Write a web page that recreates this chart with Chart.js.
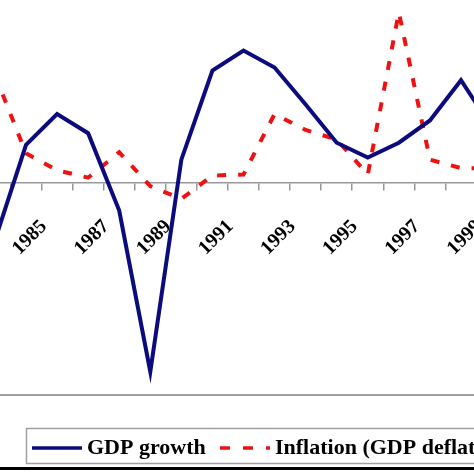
<!DOCTYPE html>
<html>
<head>
<meta charset="utf-8">
<script src="https://cdn.jsdelivr.net/npm/chart.js@4/dist/chart.umd.min.js"></script>
<style>
  html, body { margin: 0; padding: 0; background: #fff; overflow: hidden; }
  #wrap { width: 474px; height: 474px; }
</style>
</head>
<body>
<div id="wrap"><canvas id="chart" width="474" height="474"></canvas></div>
<script>
// Données (en %)
const years = [1984, 1985, 1986, 1987, 1988, 1989, 1990, 1991, 1992, 1993, 1994, 1995, 1996, 1997, 1998, 1999, 2000];
const gdpGrowth = [-2.7, 1.8, 3.25, 2.35, -1.3, -8.9, 1.1, 5.3, 6.25, 5.45, 3.7, 1.9, 1.2, 1.9, 2.95, 4.85, 2.6];
const inflation = [5.1, 1.4, 0.6, 0.25, 1.45, -0.15, -0.75, 0.35, 0.4, 3.25, 2.5, 2.05, 0.4, 8.05, 1.1, 0.7, 0.7];
const labelYears = [1985, 1987, 1989, 1991, 1993, 1995, 1997, 1999];
const tickYears = [1984.5, 1985.5, 1986.5, 1987.5, 1988.5, 1989.5, 1990.5, 1991.5, 1992.5, 1993.5, 1994.5, 1995.5, 1996.5, 1997.5, 1998.5, 1999.5];
const seriesNames = ['GDP growth', 'Inflation (GDP deflator)'];

const blue = '#0b0b7e';
const red = '#ee1111';
const redDash = [9, 12];

function toPoints(values) {
  return years.map((y, i) => ({ x: y, y: values[i] }));
}

// Légende encadrée dessinée à la main (une seule ligne, coupée à droite)
const boxLegend = {
  id: 'boxLegend',
  afterDraw(chart) {
    const ctx = chart.ctx;
    ctx.save();
    ctx.strokeStyle = '#a0a0a0';
    ctx.lineWidth = 1.5;
    ctx.strokeRect(26.5, 428.5, 480, 35);

    ctx.lineWidth = 3.5;
    ctx.strokeStyle = blue;
    ctx.beginPath(); ctx.moveTo(32, 448); ctx.lineTo(82, 448); ctx.stroke();

    ctx.strokeStyle = red;
    ctx.setLineDash([10, 13]);
    ctx.beginPath(); ctx.moveTo(220, 448); ctx.lineTo(270, 448); ctx.stroke();
    ctx.setLineDash([]);

    ctx.fillStyle = '#000';
    ctx.font = 'bold 22px "Liberation Serif", "DejaVu Serif", serif';
    ctx.textBaseline = 'middle';
    ctx.fillText(seriesNames[0], 87, 448);
    ctx.fillText(seriesNames[1], 275, 448);

    // bord noir en bas de la figure
    ctx.strokeStyle = '#000';
    ctx.lineWidth = 3;
    ctx.beginPath(); ctx.moveTo(0, 468.5); ctx.lineTo(474, 468.5); ctx.stroke();
    ctx.restore();
  }
};

new Chart(document.getElementById('chart').getContext('2d'), {
  type: 'line',
  data: {
    datasets: [{
      label: seriesNames[0],
      data: toPoints(gdpGrowth),
      borderColor: blue,
      borderWidth: 4,
      pointRadius: 0,
      tension: 0,
      fill: false
    }, {
      label: seriesNames[1],
      data: toPoints(inflation),
      borderColor: red,
      borderWidth: 4,
      borderDash: redDash,
      pointRadius: 0,
      tension: 0,
      fill: false
    }]
  },
  options: {
    responsive: false,
    animation: false,
    layout: { padding: { left: 0, right: 0, top: 0, bottom: 79 } },
    plugins: { legend: { display: false }, tooltip: { enabled: false } },
    scales: {
      x: {
        type: 'linear',
        position: { y: 0 },
        min: 1984.163,
        max: 1999.419,
        afterBuildTicks: (scale) => {
          scale.ticks = tickYears.concat(labelYears).sort((a, b) => a - b).map(v => ({ value: v }));
        },
        afterFit: (scale) => {
          scale.paddingLeft = 0;
          scale.paddingRight = 0;
        },
        border: { display: true, color: '#999', width: 1.5 },
        grid: {
          drawOnChartArea: false,
          drawTicks: true,
          tickLength: 7,
          lineWidth: 1.5,
          color: (c) => (c.tick && c.tick.value % 1 !== 0) ? '#999' : 'rgba(0,0,0,0)'
        },
        ticks: {
          autoSkip: false,
          minRotation: 45,
          maxRotation: 45,
          padding: 25,
          labelOffset: 18,
          color: '#000',
          font: { family: '"Liberation Serif", "DejaVu Serif", serif', size: 20, weight: 'bold' },
          callback: (v) => labelYears.includes(v) ? String(v) : ''
        }
      },
      y: {
        min: -10,
        max: 8.632,
        display: true,
        border: { display: false },
        afterFit: (scale) => { scale.width = 0; },
        grid: {
          drawTicks: false,
          lineWidth: 2,
          color: (c) => (c.tick && c.tick.value === -10) ? '#a0a0a0' : 'rgba(0,0,0,0)'
        },
        ticks: { display: false, stepSize: 2 }
      }
    }
  },
  plugins: [boxLegend]
});
</script>
</body>
</html>
